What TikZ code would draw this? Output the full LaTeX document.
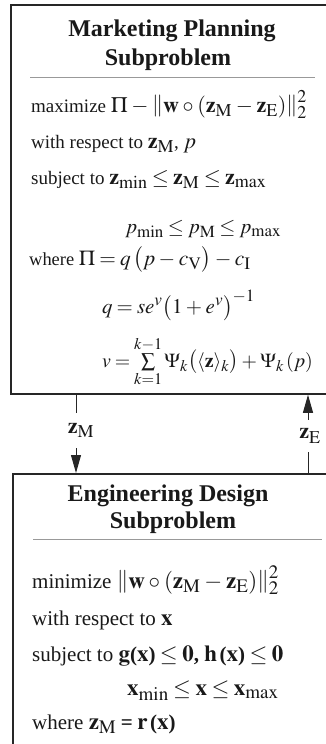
\documentclass[tikz,border=0pt]{standalone}
\usepackage{mathptmx}
\usepackage{fontspec}
\setmainfont{Liberation Serif}
\usetikzlibrary{arrows.meta}
\DeclareMathSizes{19}{22}{18}{13}
\DeclareMathSizes{21}{23}{19}{14}
\medmuskip=3mu plus 1mu
\thickmuskip=3.5mu plus 2mu
\newcommand{\bfpar}[1]{\mbox{\bfseries(}#1\mbox{\bfseries)}}
\tikzset{
  box/.style={draw=black!85, line width=1.8pt, anchor=north west, inner sep=0pt},
  sepline/.style={draw=black!40, line width=1pt},
  ttl/.style={anchor=base, inner sep=0pt, text=black!90, font=\fontsize{24}{28}\selectfont\bfseries},
  txt/.style={anchor=base west, inner sep=0pt, text=black!90, font=\fontsize{19}{22}\selectfont},
  txtb/.style={anchor=base west, inner sep=0pt, text=black!90, font=\fontsize{21}{24}\selectfont},
  lab/.style={inner sep=0pt, fill=white, text=black!90, font=\fontsize{19}{22}\selectfont},
  conn/.style={draw=black!85, line width=1pt},
  tip/.style={-{Triangle[length=18pt,width=10pt]}}
}
\begin{document}
\begin{tikzpicture}[x=1pt,y=-1pt]
\clip (0,0) rectangle (326,744);
\fill[white] (0,0) rectangle (326,744);
% boxes
\node[box, minimum width=345pt, minimum height=389pt] (mkt) at (10,4) {};
\node[box, minimum width=345pt, minimum height=300pt] (eng) at (12,473) {};
% titles
\node[ttl] (t1) at (172,36) {Marketing Planning};
\node[ttl] (t2) at (168,65) {Subproblem};
\draw[sepline] (30,77) -- (315,77);
\node[txt] (m1) at (31,112) {maximize $\Pi-\left\|\mathbf{w}\circ(\mathbf{z}_{\mathrm{M}}-\mathbf{z}_{\mathrm{E}})\right\|_2^2$};
\node[txt] (m2) at (31,148) {with respect to $\mathbf{z}_{\mathrm{M}}$, $p$};
\node[txt] (m3) at (31,184) {subject to $\mathbf{z}_{\min}\le\mathbf{z}_{\mathrm{M}}\le\mathbf{z}_{\max}$};
\node[txt] (m4) at (125,233) {\scalebox{0.94}{$p_{\min}\le p_{\mathrm{M}}\le p_{\max}$}};
\node[txt] (m5) at (29,265) {\scalebox{0.97}{where $\Pi=q\,\bigl(p-c_{\mathrm{V}}\bigr)-c_{\mathrm{I}}$}};
\node[txt] (m6) at (102,313) {\scalebox{0.95}{$q=se^{v}\bigl(1+e^{v}\bigr)^{-1}$}};
\node[txt] (m7) at (102,367) {\scalebox{0.9}{$v=\sum\limits_{k=1}^{k-1}\Psi_k\bigl(\langle\mathbf{z}\rangle_k\bigr)+\Psi_k\,(p)$}};
% connectors
\coordinate (L) at (76,0);
\coordinate (R) at (308,0);
\node[lab, minimum height=35pt] (zm) at (81,430.5) {$\mathbf{z}_{\mathrm{M}}$};
\node[lab, minimum height=32pt] (ze) at (310,436) {$\mathbf{z}_{\mathrm{E}}$};
\draw[conn] (mkt.south -| L) -- (zm.north -| L);
\draw[conn, tip] (zm.south -| L) -- (eng.north -| L);
\draw[conn] (eng.north -| R) -- (ze.south -| R);
\draw[conn, tip] (ze.north -| R) -- (mkt.south -| R);
% lower box
\node[ttl] (t3) at (168,501) {Engineering Design};
\node[ttl] (t4) at (173,528) {Subproblem};
\draw[sepline] (33,539) -- (322,539);
\node[txtb] (e1) at (32,588) {minimize $\left\|\mathbf{w}\circ(\mathbf{z}_{\mathrm{M}}-\mathbf{z}_{\mathrm{E}})\right\|_2^2$};
\node[txtb] (e2) at (32,625) {with respect to $\mathbf{x}$};
\node[txtb] (e3) at (32,661) {subject to $\mathbf{g}\bfpar{\mathbf{x}}\le\mathbf{0}$\textbf{,} $\mathbf{h}\,\bfpar{\mathbf{x}}\le\mathbf{0}$};
\node[txtb] (e4) at (127,695) {$\mathbf{x}_{\min}\le\mathbf{x}\le\mathbf{x}_{\max}$};
\node[txtb] (e5) at (32,729) {where $\mathbf{z}_{\mathrm{M}}\mathrel{\mbox{\bfseries=}}\mathbf{r}\,\bfpar{\mathbf{x}}$};
\end{tikzpicture}
\end{document}
